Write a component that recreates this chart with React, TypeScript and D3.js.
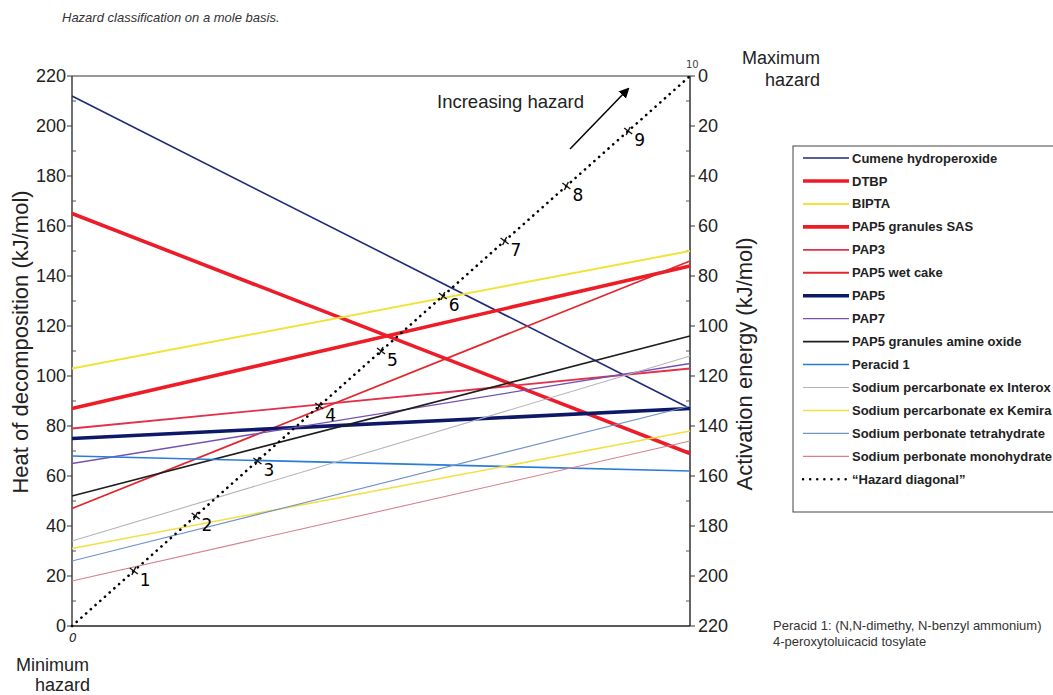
import React from 'react';
import * as d3 from 'd3';

// Heat of decomposition (left) and activation energy (right), kJ/mol
const seriesNames = [
  'Cumene hydroperoxide', 'DTBP', 'BIPTA', 'PAP5 granules SAS', 'PAP3', 'PAP5 wet cake', 'PAP5', 'PAP7',
  'PAP5 granules amine oxide', 'Peracid 1', 'Sodium percarbonate ex Interox', 'Sodium percarbonate ex Kemira',
  'Sodium perbonate tetrahydrate', 'Sodium perbonate monohydrate',
];
const heatValues = [212, 165, 103, 87, 79, 47, 75, 65, 52, 68, 34, 31, 26, 18];
const activationValues = [133, 151, 70, 76, 117, 74, 133, 115, 104, 158, 112, 142, 132, 146];
const seriesColors = ['#1f2a78', '#ec1c2a', '#f3e23a', '#ee1c25', '#e2304a', '#e3262e', '#0e1868', '#7452b2',
  '#1e1e1e', '#2b7cd8', '#b4b4bc', '#f1e044', '#7292c8', '#d6808e'];
const seriesWidths = [1.6, 3.6, 2, 3.6, 1.8, 1.8, 3.6, 1.3, 1.6, 1.6, 1.1, 1.6, 1.1, 1.1];

const leftTicks = [0, 20, 40, 60, 80, 100, 120, 140, 160, 180, 200, 220];
const diagonalMarks = [1, 2, 3, 4, 5, 6, 7, 8, 9];

const font = '"Liberation Sans", Arial, sans-serif';
const hand = '"DejaVu Sans", sans-serif';

export default function App() {
  const x0 = 72, x1 = 690, yTop = 76, yBot = 626;
  const yLeft = d3.scaleLinear().domain([0, 220]).range([yBot, yTop]);
  const yRight = d3.scaleLinear().domain([0, 220]).range([yTop, yBot]);
  const xFrac = d3.scaleLinear().domain([0, 1]).range([x0, x1]);
  const minorTicks = d3.range(10, 220, 20);

  const diag = d3.line<number>().x(t => xFrac(t)).y(t => yLeft(220 * t))([0, 1]) as string;

  return (
    <svg width={1053} height={695} style={{ position: 'absolute', left: 0, top: 0, background: '#fff' }}>
      <text x={62} y={22} fontFamily={font} fontSize={13} fontStyle="italic" fill="#333">
        Hazard classification on a mole basis.
      </text>

      {/* frame */}
      <line x1={x0} x2={x1} y1={yTop} y2={yTop} stroke="#333" strokeWidth={1.2} />
      <line x1={x0} x2={x1} y1={yBot} y2={yBot} stroke="#222" strokeWidth={1.4} />
      <line x1={x0} x2={x0} y1={yTop} y2={yBot} stroke="#333" strokeWidth={1.4} />
      <line x1={x1} x2={x1} y1={yTop} y2={yBot} stroke="#222" strokeWidth={1.4} />

      {/* left axis */}
      {leftTicks.map(t => (
        <g key={'l' + t}>
          <line x1={x0 - 5} x2={x0} y1={yLeft(t)} y2={yLeft(t)} stroke="#333" />
          <text x={x0 - 6} y={yLeft(t)} dy="0.35em" textAnchor="end" fontFamily={font} fontSize={18} fill="#222">{t}</text>
        </g>
      ))}
      {minorTicks.map(t => (
        <line key={'lm' + t} x1={x0} x2={x0 + 4} y1={yLeft(t)} y2={yLeft(t)} stroke="#555" />
      ))}
      <text transform={`translate(28, 342) rotate(-90)`} textAnchor="middle"
        fontFamily={font} fontSize={22} fill="#222">Heat of decomposition (kJ/mol)</text>

      {/* right axis */}
      {leftTicks.map(t => (
        <g key={'r' + t}>
          <line x1={x1} x2={x1 + 5} y1={yRight(t)} y2={yRight(t)} stroke="#333" />
          <text x={x1 + 8} y={yRight(t)} dy="0.35em" textAnchor="start" fontFamily={font} fontSize={18} fill="#222">{t}</text>
        </g>
      ))}
      {minorTicks.map(t => (
        <line key={'rm' + t} x1={x1 - 4} x2={x1} y1={yRight(t)} y2={yRight(t)} stroke="#555" />
      ))}
      <text transform={`translate(752, 364) rotate(-90)`} textAnchor="middle"
        fontFamily={font} fontSize={22} fill="#222">Activation energy (kJ/mol)</text>

      {/* hazard labels */}
      <text x={820} y={64} textAnchor="end" fontFamily={font} fontSize={18} fill="#222">Maximum</text>
      <text x={820} y={86} textAnchor="end" fontFamily={font} fontSize={18} fill="#222">hazard</text>
      <text x={16} y={671} fontFamily={font} fontSize={18} fill="#222">Minimum</text>
      <text x={35} y={691} fontFamily={font} fontSize={18} fill="#222">hazard</text>
      <text x={437} y={108} fontFamily={font} fontSize={18.5} fill="#222">Increasing hazard</text>

      {/* arrow */}
      <defs>
        <marker id="ah" viewBox="0 0 10 10" refX="8" refY="5" markerWidth="7" markerHeight="7" orient="auto">
          <path d="M0,0 L10,5 L0,10 z" fill="#000" />
        </marker>
      </defs>
      <line x1={570} y1={149} x2={628} y2={89} stroke="#000" strokeWidth={1.5} markerEnd="url(#ah)" />

      {/* series */}
      {seriesNames.map((name, i) => (
        <line key={name} x1={x0} x2={x1} y1={yLeft(heatValues[i])} y2={yRight(activationValues[i])}
          stroke={seriesColors[i]} strokeWidth={seriesWidths[i]} />
      ))}

      {/* hazard diagonal */}
      <path d={diag} stroke="#000" strokeWidth={2.6} strokeDasharray="0.1,6.2" strokeLinecap="round" fill="none" />

      {/* handwritten marks */}
      {diagonalMarks.map(k => {
        const cx = xFrac(k / 10), cy = yLeft(22 * k);
        return (
          <g key={'m' + k} stroke="#111" strokeWidth={1.4}>
            <line x1={cx - 4} x2={cx + 4} y1={cy - 3} y2={cy + 3} />
            <line x1={cx - 2} x2={cx + 2} y1={cy + 4} y2={cy - 4} />
            <text x={cx + 6} y={cy + 15} fontFamily={hand} fontSize={17} stroke="none" fill="#000">{k}</text>
          </g>
        );
      })}
      <text x={x0 - 3} y={yBot + 16} fontFamily={hand} fontSize={12} fontStyle="italic" fill="#222">0</text>
      <text x={x1 - 4} y={yTop - 8} fontFamily={hand} fontSize={10} fill="#444">10</text>

      {/* legend */}
      <rect x={793} y={146} width={280} height={366} fill="none" stroke="#444" strokeWidth={1} />
      {seriesNames.map((name, i) => (
        <g key={'lg' + name} transform={`translate(0, ${158 + i * 22.95})`}>
          <line x1={803} x2={849} y1={0} y2={0} stroke={seriesColors[i]} strokeWidth={seriesWidths[i]} />
          <text x={852} y={0} dy="0.35em" fontFamily={font} fontSize={13} fontWeight="bold" fill="#222">{name}</text>
        </g>
      ))}
      <g transform={`translate(0, ${158 + 14 * 22.95})`}>
        <line x1={803} x2={849} y1={0} y2={0} stroke="#000" strokeWidth={2.4} strokeDasharray="0.1,7" strokeLinecap="round" />
        <text x={852} y={0} dy="0.35em" fontFamily={font} fontSize={13} fontWeight="bold" fill="#222">“Hazard diagonal”</text>
      </g>

      {/* footnote */}
      <text x={773} y={630} fontFamily={font} fontSize={13} fill="#333">Peracid 1:  (N,N-dimethy, N-benzyl ammonium)</text>
      <text x={773} y={646} fontFamily={font} fontSize={13} fill="#333">4-peroxytoluicacid tosylate</text>
    </svg>
  );
}
